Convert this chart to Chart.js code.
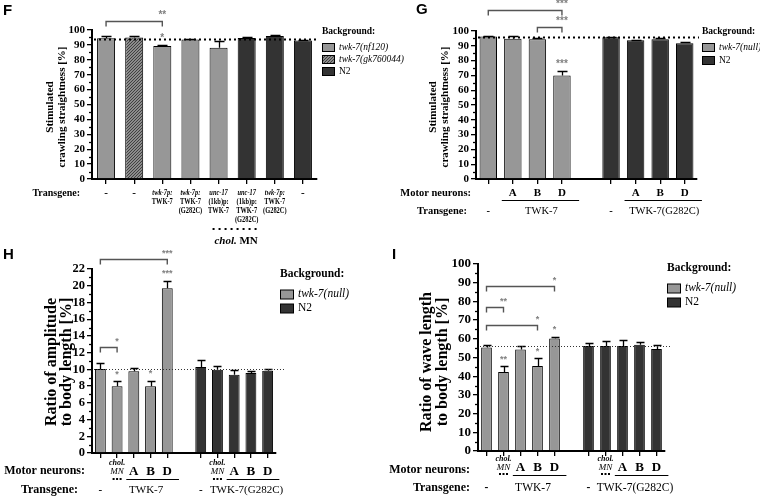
<!DOCTYPE html>
<html>
<head>
<meta charset="utf-8">
<script src="https://cdn.jsdelivr.net/npm/chart.js@4.4.1/dist/chart.umd.min.js"></script>
<style>
body { margin: 0; background: #fff; width: 760px; height: 498px; position: relative; overflow: hidden; }
.p { position: absolute; left: 0; top: 0; width: 760px; height: 498px; }
</style>
</head>
<body>
<div class="p"><canvas id="chartF"></canvas></div>
<div class="p"><canvas id="chartG"></canvas></div>
<div class="p"><canvas id="chartH"></canvas></div>
<div class="p"><canvas id="chartI"></canvas></div>
<script>
// ---- F: stimulated crawling straightness, transgene rescue
const fTransgene = [['-'], ['-'], ['twk-7p:', 'TWK-7'], ['twk-7p:', 'TWK-7', '(G282C)'],
  ['unc-17', '(1kb)p:', 'TWK-7'], ['unc-17', '(1kb)p:', 'TWK-7', '(G282C)'], ['twk-7p:', 'TWK-7', '(G282C)'], ['-']];
const fValues = [94.5, 95.0, 89.3, 93.7, 88.1, 94.6, 96.0, 93.0];
const fErrors = [1.5, 1.0, 0.8, 0.5, 4.2, 0.6, 0.6, 0.5];
const fBackground = [0, 1, 0, 0, 0, 2, 2, 2];
const fLegend = ['twk-7(nf120)', 'twk-7(gk760044)', 'N2'];
const fControl = 93.9;

// ---- G: crawling straightness, motor neuron classes
const gMotor = ['', 'A', 'B', 'D', null, '', 'A', 'B', 'D'];
const gValues = [96.2, 94.8, 94.4, 70.0, null, 95.7, 93.7, 94.4, 91.7];
const gErrors = [0.6, 2.1, 0.9, 2.9, null, 0.4, 0.4, 1.0, 0.8];
const gBackground = [0, 0, 0, 0, null, 1, 1, 1, 1];
const gLegend = ['twk-7(null)', 'N2'];
const gControl = 96.1;

// ---- H: amplitude / body length
const hMotor = ['', 'chol. MN', 'A', 'B', 'D', null, '', 'chol. MN', 'A', 'B', 'D'];
const hValues = [10.05, 7.97, 9.76, 7.97, 19.7, null, 10.28, 9.96, 9.36, 9.56, 9.84];
const hErrors = [0.7, 0.62, 0.4, 0.68, 0.88, null, 0.8, 0.48, 0.52, 0.28, 0.2];
const hBackground = [0, 0, 0, 0, 0, null, 1, 1, 1, 1, 1];
const hControl = 10.05;

// ---- I: wave length / body length
const iMotor = hMotor;
const iValues = [55.4, 42.3, 54.3, 45.5, 60.2, null, 56.1, 56.1, 56.1, 56.8, 54.6];
const iErrors = [1.2, 3.0, 1.8, 4.0, 0.9, null, 1.4, 2.5, 3.2, 1.4, 2.2];
const iBackground = hBackground;
const iControl = 55.9;

const legendNull = ['twk-7(null)', 'N2'];
const transgeneGroups = [{ from: 0, to: 0, text: '-' }, { from: 1, to: 4, text: 'TWK-7' },
  { from: 6, to: 6, text: '-' }, { from: 7, to: 10, text: 'TWK-7(G282C)' }];

const SERIF = "'Liberation Serif', 'Times New Roman', serif";
const SANS = "'Liberation Sans', Arial, sans-serif";
const LIGHT = '#979797';
const DARK = '#333333';

function makeHatch() {
  const c = document.createElement('canvas');
  c.width = 3; c.height = 3;
  const g = c.getContext('2d');
  g.fillStyle = '#8c8c8c';
  g.fillRect(0, 0, 3, 3);
  g.fillStyle = '#404040';
  for (let k = 0; k < 3; k++) g.fillRect(2 - k, k, 1, 1);
  return g.createPattern(c, 'repeat');
}
const HATCH = makeHatch();

function text(ctx, s, x, y, font, align, color) {
  ctx.font = font;
  ctx.fillStyle = color || '#000';
  ctx.textAlign = align || 'center';
  ctx.textBaseline = 'middle';
  ctx.fillText(s, x, y);
}

// narrow text (the small transgene captions in F)
function squeeze(ctx, s, x, y, font, k) {
  ctx.save();
  ctx.translate(x, y);
  ctx.scale(k, 1);
  text(ctx, s, 0, 0, font);
  ctx.restore();
}

function groupRow(ctx, x, groups, y, font, shift) {
  groups.forEach(g => {
    const cx = (x.getPixelForValue(g.from) + x.getPixelForValue(g.to)) / 2 + (g.text === '-' ? 0 : shift || 0);
    text(ctx, g.text, cx, y, g.text === '-' ? `bold ${font}` : font);
  });
}

function motorRow(ctx, x, motor, a, o) {
  let first = null, last = null;
  const flush = () => {
    if (first === null) return;
    ctx.strokeStyle = '#000'; ctx.lineWidth = 1;
    ctx.beginPath();
    ctx.moveTo(x.getPixelForValue(first) - o.w * 0.45, a.bottom + o.line + 0.5);
    ctx.lineTo(x.getPixelForValue(last) + o.w * 0.7, a.bottom + o.line + 0.5);
    ctx.stroke();
    first = last = null;
  };
  motor.forEach((m, i) => {
    const cx = x.getPixelForValue(i);
    if (m === 'A' || m === 'B' || m === 'D') {
      text(ctx, m, cx, a.bottom + o.abd, `bold ${o.abdSize}px ${SERIF}`);
      if (first === null) first = i;
      last = i;
    } else {
      flush();
      if (m === 'chol. MN') {
        text(ctx, 'chol.', cx, a.bottom + o.chol, `italic bold 8px ${SERIF}`);
        text(ctx, 'MN', cx, a.bottom + o.mn, `italic 9px ${SERIF}`);
        ctx.fillStyle = '#000';
        for (let k = -1; k <= 1; k++) ctx.fillRect(cx + k * 3.5 - 1, a.bottom + o.dots, 2, 2);
      }
    }
  });
  flush();
}

function makePlugin(P) {
  return {
    id: 'panel' + P.letter,
    afterDraw(chart) {
      const ctx = chart.ctx, a = chart.chartArea, x = chart.scales.x, y = chart.scales.y;
      const w = x.getPixelForValue(1) - x.getPixelForValue(0);
      ctx.save();
      // minor ticks on the value axis
      ctx.strokeStyle = '#000'; ctx.lineWidth = 1.3;
      for (let v = P.step / 2; v < P.max; v += P.step) {
        const py = Math.round(y.getPixelForValue(v)) + 0.5;
        ctx.beginPath(); ctx.moveTo(a.left - 3, py); ctx.lineTo(a.left, py); ctx.stroke();
      }
      // error bars (upper half)
      ctx.lineWidth = 1.3;
      P.values.forEach((v, i) => {
        if (v == null) return;
        const cx = Math.round(x.getPixelForValue(i)) + 0.5;
        const base = y.getPixelForValue(v), top = Math.round(y.getPixelForValue(v + P.errors[i])) + 0.5;
        ctx.beginPath();
        ctx.moveTo(cx, base); ctx.lineTo(cx, top);
        ctx.moveTo(cx - P.cap, top); ctx.lineTo(cx + P.cap, top);
        ctx.stroke();
      });
      // control reference line
      const ry = Math.round(y.getPixelForValue(P.ref)) + 0.5;
      ctx.setLineDash(P.refDash); ctx.lineWidth = P.refWidth; ctx.strokeStyle = P.refColor;
      ctx.beginPath(); ctx.moveTo(a.left + 2, ry); ctx.lineTo(a.right + P.refExtra, ry); ctx.stroke();
      ctx.setLineDash([]);
      // significance brackets and stars
      ctx.strokeStyle = '#555'; ctx.lineWidth = 1.4;
      P.brackets.forEach(b => {
        const x0 = x.getPixelForValue(b.from), x1 = x.getPixelForValue(b.to);
        const by = Math.round(y.getPixelForValue(b.at)) + 0.5;
        ctx.beginPath(); ctx.moveTo(x0, by + 5); ctx.lineTo(x0, by); ctx.lineTo(x1, by); ctx.lineTo(x1, by + 5); ctx.stroke();
        text(ctx, b.label, x1, by - 6, P.starFont, 'center', '#808080');
      });
      P.stars.forEach(([i, s]) => {
        text(ctx, s, x.getPixelForValue(i), y.getPixelForValue(P.values[i] + P.errors[i]) - 7, P.starFont, 'center', '#808080');
      });
      // value axis title
      P.title.forEach((line, k) => {
        ctx.save();
        ctx.translate(a.left - P.titleOff[k], P.titleY);
        ctx.rotate(-Math.PI / 2);
        text(ctx, line, 0, 0, P.titleFont);
        ctx.restore();
      });
      // legend
      const L = P.leg;
      text(ctx, 'Background:', L.x, L.y, `bold ${L.size}px ${SERIF}`, 'left');
      P.legend.forEach((name, k) => {
        const ly = L.y + L.first + k * L.gap;
        ctx.fillStyle = P.fills[k];
        ctx.fillRect(L.x + 0.5, ly - L.ph / 2 + 0.5, L.pw, L.ph);
        ctx.strokeStyle = '#000'; ctx.lineWidth = 1;
        ctx.strokeRect(L.x + 0.5, ly - L.ph / 2 + 0.5, L.pw, L.ph);
        text(ctx, name, L.x + L.pw + L.tx, ly, `${name.startsWith('twk') ? 'italic ' : ''}${L.size}px ${SERIF}`, 'left');
      });
      // category rows under the axis
      P.rows(ctx, a, x, w);
      // panel letter
      text(ctx, P.letter, P.letterAt[0], P.letterAt[1], `bold 15px ${SANS}`, 'left');
      ctx.restore();
    }
  };
}

function build(id, P) {
  new Chart(document.getElementById(id), {
    type: 'bar',
    data: {
      labels: P.labels,
      datasets: [{
        data: P.values,
        backgroundColor: P.background.map(b => b == null ? 'rgba(0,0,0,0)' : P.fills[b]),
        borderColor: '#000',
        borderWidth: 1,
        barPercentage: P.barPct,
        categoryPercentage: 1
      }]
    },
    options: {
      responsive: true,
      maintainAspectRatio: false,
      animation: false,
      events: [],
      devicePixelRatio: 1,
      layout: { padding: { left: P.box[0] - 30, top: P.box[1], right: 760 - P.box[2], bottom: 498 - P.box[3] - 6 } },
      plugins: { legend: { display: false }, tooltip: { enabled: false } },
      scales: {
        x: {
          offset: true,
          afterFit: s => { s.height = 6; },
          ticks: { display: false },
          grid: {
            offset: false, drawOnChartArea: false, drawTicks: true, tickLength: 5, lineWidth: 1.3,
            color: c => P.values[c.index] == null ? 'rgba(0,0,0,0)' : '#000'
          },
          border: { display: true, color: '#000', width: 2 }
        },
        y: {
          min: 0, max: P.max,
          afterFit: s => { s.width = 30; },
          ticks: { stepSize: P.step, autoSkip: false, padding: 2, color: '#000', font: { family: SERIF, size: P.tickSize, weight: 'bold' } },
          grid: { drawOnChartArea: false, drawTicks: true, tickLength: 5, lineWidth: 1.3, color: '#000' },
          border: { display: true, color: '#000', width: 2 }
        }
      }
    },
    plugins: [makePlugin(P)]
  });
}

// ---------- F
build('chartF', {
  letter: 'F', letterAt: [3, 11],
  labels: fTransgene.map(l => l.join(' ')),
  values: fValues, errors: fErrors, background: fBackground,
  legend: fLegend, fills: [LIGHT, HATCH, DARK],
  box: [92, 30, 317, 179], max: 100, step: 10, tickSize: 11, barPct: 0.64, cap: 5,
  ref: fControl, refDash: [2, 3], refWidth: 2, refColor: '#000', refExtra: 2,
  starFont: `bold 10px ${SANS}`,
  brackets: [{ from: 0, to: 2, at: 106, label: '**' }],
  stars: [[2, '*']],
  title: ['Stimulated', 'crawling straightness [%]'], titleOff: [42, 30], titleY: 107, titleFont: `bold 11px ${SERIF}`,
  leg: { x: 322, y: 32, size: 9.5, first: 15, gap: 12, pw: 12, ph: 8, tx: 5 },
  rows(ctx, a, x, w) {
    text(ctx, 'Transgene:', a.left - 12, a.bottom + 14, `bold 10px ${SERIF}`, 'right');
    fTransgene.forEach((lines, i) => {
      const cx = x.getPixelForValue(i);
      if (lines[0] === '-') { text(ctx, '-', cx, a.bottom + 14, `bold 11px ${SERIF}`); return; }
      lines.forEach((s, k) => squeeze(ctx, s, cx, a.bottom + 14 + 9 * k,
        `${/^(twk|unc)/.test(s) ? 'italic ' : ''}bold 8px ${SERIF}`, 0.8));
    });
    const x4 = x.getPixelForValue(4), x5 = x.getPixelForValue(5);
    ctx.strokeStyle = '#000'; ctx.lineWidth = 2; ctx.setLineDash([2, 4]);
    ctx.beginPath(); ctx.moveTo(x4 - 6, a.bottom + 50); ctx.lineTo(x5 + 13, a.bottom + 50); ctx.stroke();
    ctx.setLineDash([]);
    const cx = (x4 + x5) / 2 + 3.5;
    ctx.font = `italic bold 11px ${SERIF}`; const w1 = ctx.measureText('chol.').width;
    ctx.font = `bold 11px ${SERIF}`; const w2 = ctx.measureText(' MN').width;
    text(ctx, 'chol.', cx - (w1 + w2) / 2, a.bottom + 62, `italic bold 11px ${SERIF}`, 'left');
    text(ctx, ' MN', cx - (w1 + w2) / 2 + w1, a.bottom + 62, `bold 11px ${SERIF}`, 'left');
  }
});

// ---------- G
build('chartG', {
  letter: 'G', letterAt: [416, 10],
  labels: gMotor.map((m, i) => m == null ? '' : (i < 4 ? 'TWK-7 ' : 'TWK-7(G282C) ') + m),
  values: gValues, errors: gErrors, background: gBackground,
  legend: gLegend, fills: [LIGHT, DARK],
  box: [476, 31, 697, 179], max: 100, step: 10, tickSize: 11, barPct: 0.71, cap: 5,
  ref: gControl, refDash: [2, 3], refWidth: 2, refColor: '#000', refExtra: 2,
  starFont: `bold 10px ${SANS}`,
  brackets: [{ from: 0, to: 3, at: 114.2, label: '***' }, { from: 2, to: 3, at: 102.7, label: '***' }],
  stars: [[3, '***']],
  title: ['Stimulated', 'crawling straightness [%]'], titleOff: [43, 31], titleY: 107, titleFont: `bold 11px ${SERIF}`,
  leg: { x: 702, y: 32, size: 9.5, first: 15, gap: 13, pw: 12, ph: 8, tx: 5 },
  rows(ctx, a, x, w) {
    text(ctx, 'Motor neurons:', a.left - 5, a.bottom + 14, `bold 10.5px ${SERIF}`, 'right');
    text(ctx, 'Transgene:', a.left - 9, a.bottom + 32, `bold 10.5px ${SERIF}`, 'right');
    motorRow(ctx, x, gMotor, a, { w, abd: 14, abdSize: 11, line: 21 });
    groupRow(ctx, x, [{ from: 0, to: 0, text: '-' }, { from: 1, to: 3, text: 'TWK-7' },
      { from: 5, to: 5, text: '-' }, { from: 6, to: 8, text: 'TWK-7(G282C)' }], a.bottom + 32, `10.5px ${SERIF}`, 4);
  }
});

// ---------- H
build('chartH', {
  letter: 'H', letterAt: [3, 255],
  labels: hMotor.map((m, i) => m == null ? '' : (i < 5 ? 'TWK-7 ' : 'TWK-7(G282C) ') + m),
  values: hValues, errors: hErrors, background: hBackground,
  legend: legendNull, fills: [LIGHT, DARK],
  box: [92, 269, 276, 453], max: 22, step: 2, tickSize: 12.5, barPct: 0.65, cap: 4,
  ref: hControl, refDash: [1, 2], refWidth: 1, refColor: '#333', refExtra: 9,
  starFont: `bold 9px ${SANS}`,
  brackets: [{ from: 0, to: 4, at: 23.2, label: '***' }, { from: 0, to: 1, at: 12.7, label: '*' }],
  stars: [[1, '*'], [3, '*'], [4, '***']],
  title: ['Ratio of amplitude', 'to body length [%]'], titleOff: [40, 25], titleY: 362, titleFont: `bold 16px ${SERIF}`,
  leg: { x: 280, y: 274, size: 11.5, first: 20, gap: 14, pw: 13, ph: 9, tx: 5 },
  rows(ctx, a, x, w) {
    text(ctx, 'Motor neurons:', a.left - 7, a.bottom + 18, `bold 12px ${SERIF}`, 'right');
    text(ctx, 'Transgene:', a.left - 14, a.bottom + 37, `bold 12px ${SERIF}`, 'right');
    motorRow(ctx, x, hMotor, a, { w, abd: 19, abdSize: 13, line: 26, chol: 10, mn: 19, dots: 25 });
    groupRow(ctx, x, transgeneGroups, a.bottom + 37, `11px ${SERIF}`, 4);
  }
});

// ---------- I
build('chartI', {
  letter: 'I', letterAt: [392, 255],
  labels: iMotor.map((m, i) => m == null ? '' : (i < 5 ? 'TWK-7 ' : 'TWK-7(G282C) ') + m),
  values: iValues, errors: iErrors, background: iBackground,
  legend: legendNull, fills: [LIGHT, DARK],
  box: [478, 264, 665, 451], max: 100, step: 10, tickSize: 13, barPct: 0.63, cap: 4,
  ref: iControl, refDash: [1, 2], refWidth: 1, refColor: '#333', refExtra: 6,
  starFont: `bold 9px ${SANS}`,
  brackets: [{ from: 0, to: 4, at: 88.2, label: '*' }, { from: 0, to: 1, at: 76.9, label: '**' }, { from: 0, to: 3, at: 67.3, label: '*' }],
  stars: [[1, '**'], [3, '*'], [4, '*']],
  title: ['Ratio of wave length', 'to body length [%]'], titleOff: [51, 35], titleY: 362, titleFont: `bold 16px ${SERIF}`,
  leg: { x: 667, y: 268, size: 11.5, first: 20, gap: 14, pw: 13, ph: 9, tx: 5 },
  rows(ctx, a, x, w) {
    text(ctx, 'Motor neurons:', a.left - 8, a.bottom + 19, `bold 12px ${SERIF}`, 'right');
    text(ctx, 'Transgene:', a.left - 8, a.bottom + 37, `bold 12px ${SERIF}`, 'right');
    motorRow(ctx, x, iMotor, a, { w, abd: 17, abdSize: 13, line: 24, chol: 8, mn: 17, dots: 22 });
    groupRow(ctx, x, transgeneGroups, a.bottom + 37, `11.5px ${SERIF}`, 4);
  }
});
</script>
</body>
</html>
